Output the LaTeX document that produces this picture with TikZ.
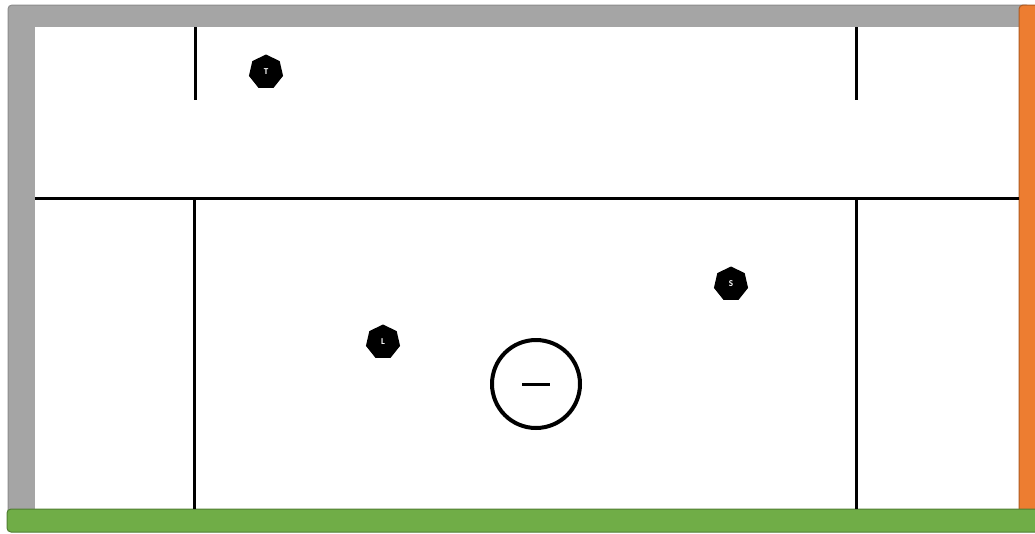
\documentclass[tikz,border=0pt]{standalone}
\usepackage{fontspec}
\setmainfont{Carlito}
\usetikzlibrary{shapes.geometric}
\definecolor{wallgray}{HTML}{A5A5A5}
\definecolor{wallgrayd}{HTML}{8C8C8C}
\definecolor{orng}{HTML}{ED7D31}
\definecolor{orngd}{HTML}{AE5A21}
\definecolor{grn}{HTML}{70AD47}
\definecolor{grnd}{HTML}{507E32}
\tikzset{
  player/.style={regular polygon, regular polygon sides=7, fill=black, minimum size=35pt, inner sep=0pt, text=white, font=\bfseries\fontsize{9}{9}\selectfont},
  field/.style={line width=3pt, black},
}
\begin{document}
\begin{tikzpicture}[x=1pt,y=-1pt]
\useasboundingbox (0,0) rectangle (1035,533);
% walls
\draw[wallgrayd, fill=wallgray, line width=1pt, rounded corners=4pt] (8,5) rectangle (1030,515);
\fill[white] (35,27) rectangle (1019,510);
\draw[orngd, fill=orng, line width=1pt, rounded corners=4pt] (1019,5) rectangle (1045,515);
\draw[grnd, fill=grn, line width=1pt, rounded corners=4pt] (7,509) rectangle (1045,532);
% field lines
\coordinate (hl) at (35,198);
\coordinate (hr) at (1019,198);
\draw[field] (hl) -- (hr);
\coordinate (t1a) at (195,27); \coordinate (t1b) at (195,100);
\coordinate (t2a) at (856,27); \coordinate (t2b) at (856,100);
\draw[field] (t1a) -- (t1b);
\draw[field] (t2a) -- (t2b);
\coordinate (b1a) at (194,198); \coordinate (b1b) at (194,509);
\coordinate (b2a) at (856,198); \coordinate (b2b) at (856,509);
\draw[field] (b1a) -- (b1b);
\draw[field] (b2a) -- (b2b);
% goal circle
\node (goal) [circle, draw, line width=4pt, minimum size=88pt, inner sep=0pt] at (536,384) {};
\coordinate (m1) at (522,384); \coordinate (m2) at (550,384);
\draw[line width=3pt] (m1) -- (m2);
% players
\node[player] (T) at (266,72) {T};
\node[player] (L) at (383,342) {L};
\node[player] (S) at (731,284) {S};
\end{tikzpicture}
\end{document}
